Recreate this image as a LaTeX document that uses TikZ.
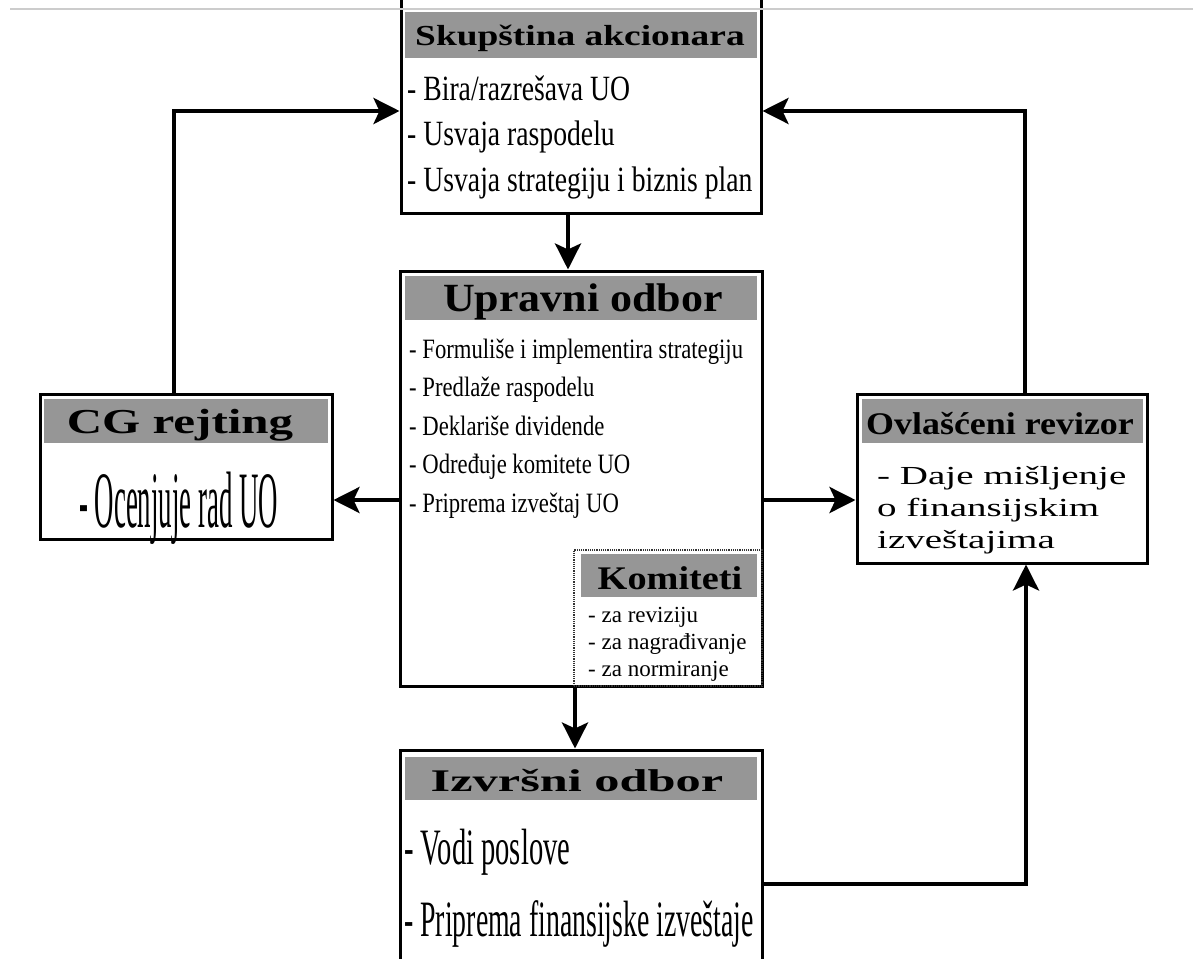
\documentclass[tikz,border=0pt]{standalone}
\usepackage{graphicx}
\usepackage{fontspec}
\setmainfont{Liberation Serif}
\usetikzlibrary{arrows.meta}
\definecolor{hdr}{RGB}{150,150,150}
\newcommand{\tx}[3]{\scalebox{#2}[1]{\fontsize{#1}{#1}\selectfont #3}}
\begin{document}
\begin{tikzpicture}[x=1pt,y=-1pt,
  box/.style={draw=black, line width=3pt, fill=white, inner sep=0pt},
  hdrbox/.style={fill=hdr, inner sep=0pt},
  arr/.style={line width=4pt, -{Stealth[length=26pt,width=26pt,inset=6pt]}},
  txt/.style={inner sep=0pt, anchor=base west},
  htxt/.style={inner sep=0pt, anchor=base}]
\useasboundingbox (0,0) rectangle (1193,958);
\clip (0,0) rectangle (1193,958);
\fill[white] (0,0) rectangle (1193,958);

% boxes
\node[box, minimum width=360pt, minimum height=218pt] (skup) at (581,104) {};
\node[box, minimum width=362pt, minimum height=415pt] (upr) at (581,478.5) {};
\node[box, minimum width=362pt, minimum height=230pt] (izv) at (581,865) {};
\node[box, minimum width=292pt, minimum height=145pt] (cg) at (186,466.5) {};
\node[box, minimum width=290pt, minimum height=169pt] (ovl) at (1002,478.5) {};
\node[draw=black!80, densely dotted, line width=1.2pt, inner sep=0pt,
      minimum width=188pt, minimum height=136pt] (kom) at (668,618) {};

\draw[gray!40, line width=1.5pt] (10,9) -- (1193,9);

% headers
\node[hdrbox, minimum width=352pt, minimum height=46pt] (skuph) at (581,35) {};
\node[hdrbox, minimum width=352pt, minimum height=44pt] (uprh) at (581,298) {};
\node[hdrbox, minimum width=176pt, minimum height=43pt] (komh) at (669,575.5) {};
\node[hdrbox, minimum width=352pt, minimum height=43pt] (izvh) at (581,778.5) {};
\node[hdrbox, minimum width=284pt, minimum height=44pt] (cgh) at (186,421) {};
\node[hdrbox, minimum width=281pt, minimum height=44pt] (ovlh) at (1002.5,421) {};

% texts
\node[htxt] (skupt) at (580,46) {\tx{29}{1.29}{\bfseries Skupština akcionara}};
\node[txt] (s1) at (407,100) {\tx{35.5}{0.78}{- Bira/razrešava UO}};
\node[txt] (s2) at (407,145) {\tx{35.5}{0.78}{- Usvaja raspodelu}};
\node[txt] (s3) at (407,191) {\tx{35.5}{0.78}{- Usvaja strategiju i biznis plan}};

\node[htxt] (uprt) at (583,311) {\tx{40}{1.1}{\bfseries Upravni odbor}};
\node[txt] (u1) at (409,358) {\tx{28}{0.81}{- Formuliše i implementira strategiju}};
\node[txt] (u2) at (409,396) {\tx{28}{0.81}{- Predlaže raspodelu}};
\node[txt] (u3) at (409,435) {\tx{28}{0.81}{- Deklariše dividende}};
\node[txt] (u4) at (409,473) {\tx{28}{0.81}{- Određuje komitete UO}};
\node[txt] (u5) at (409,512) {\tx{28}{0.81}{- Priprema izveštaj UO}};

\node[htxt] (komt) at (670,589) {\tx{33}{1.16}{\bfseries Komiteti}};
\node[txt] (k1) at (588,622) {\tx{23}{1.0}{- za reviziju}};
\node[txt] (k2) at (588,649) {\tx{23}{1.0}{- za nagrađivanje}};
\node[txt] (k3) at (588,676) {\tx{23}{1.0}{- za normiranje}};

\node[htxt] (cgt) at (180,433) {\tx{35}{1.4}{\bfseries CG rejting}};
\node[htxt] (cg1) at (178.5,527) {\tx{80}{0.335}{- Ocenjuje rad UO}};

\node[htxt] (ovlt) at (1000,434) {\tx{31.5}{1.14}{\bfseries Ovlašćeni revizor}};
\node[txt] (o1) at (877,484) {\tx{26}{1.5}{- Daje mišljenje}};
\node[txt] (o2) at (877,516) {\tx{26}{1.5}{o finansijskim}};
\node[txt] (o3) at (877,548) {\tx{26}{1.5}{izveštajima}};

\node[htxt] (izvt) at (577,791) {\tx{31.5}{1.6}{\bfseries Izvršni odbor}};
\node[txt] (i1) at (404,864) {\tx{51}{0.56}{- Vodi poslove}};
\node[txt] (i2) at (404,936) {\tx{51}{0.545}{- Priprema finansijske izveštaje}};

% connectors
\coordinate (hl) at (0,500);
\coordinate (tl) at (0,111);
\coordinate (bl) at (0,884);
\draw[arr] ([xshift=-13pt]skup.south) -- ([xshift=-13pt]upr.north);
\draw[arr] ([xshift=-6pt]upr.south) -- ([xshift=-6pt]izv.north);
\draw[arr] (upr.west |- hl) -- (cg.east |- hl);
\draw[arr] (upr.east |- hl) -- (ovl.west |- hl);
\draw[arr] ([xshift=-12pt]cg.north) |- (skup.west |- tl);
\draw[arr] ([xshift=23pt]ovl.north) |- (skup.east |- tl);
\draw[arr] (izv.east |- bl) -| ([xshift=24pt]ovl.south);
\end{tikzpicture}
\end{document}
